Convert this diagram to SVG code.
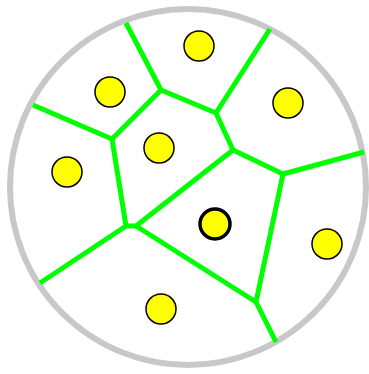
<svg xmlns="http://www.w3.org/2000/svg" width="369" height="374" viewBox="0 0 369 374">
<style>
.site{fill:#ffff00;stroke:#000;stroke-width:1.5}
.sel{fill:#ffff00;stroke:#000;stroke-width:3.5}
.edge{stroke:#00ff00;stroke-width:5;fill:none;stroke-linecap:butt;stroke-linejoin:round}
</style>
<rect width="369" height="374" fill="#fff"/>
<circle id="boundary" cx="188" cy="187" r="178" fill="none" stroke="#c8c8c8" stroke-width="6"/>
<g id="connectors">
<polyline class="edge" points="126,23 161,90 216,113 270,29"/>
<polyline class="edge" points="216,113 233,150 283,174 364,152"/>
<polyline class="edge" points="161,90 112,139 33,105"/>
<polyline class="edge" points="112,139 126,226 136,226 233,150"/>
<polyline class="edge" points="283,174 256,302 276,342"/>
<polyline class="edge" points="126,226 40,283"/>
<polyline class="edge" points="136,226 256,302"/>
</g>
<g id="site1"><circle class="site" cx="199" cy="46" r="15"/></g>
<g id="site2"><circle class="site" cx="110" cy="92" r="15"/></g>
<g id="site3"><circle class="site" cx="288" cy="103" r="15"/></g>
<g id="site4"><circle class="site" cx="159" cy="148" r="15"/></g>
<g id="site5"><circle class="site" cx="67" cy="172" r="15"/></g>
<g id="site6"><circle class="sel" cx="215" cy="224" r="15"/></g>
<g id="site7"><circle class="site" cx="327" cy="244" r="15"/></g>
<g id="site8"><circle class="site" cx="161" cy="309" r="15"/></g>
</svg>
